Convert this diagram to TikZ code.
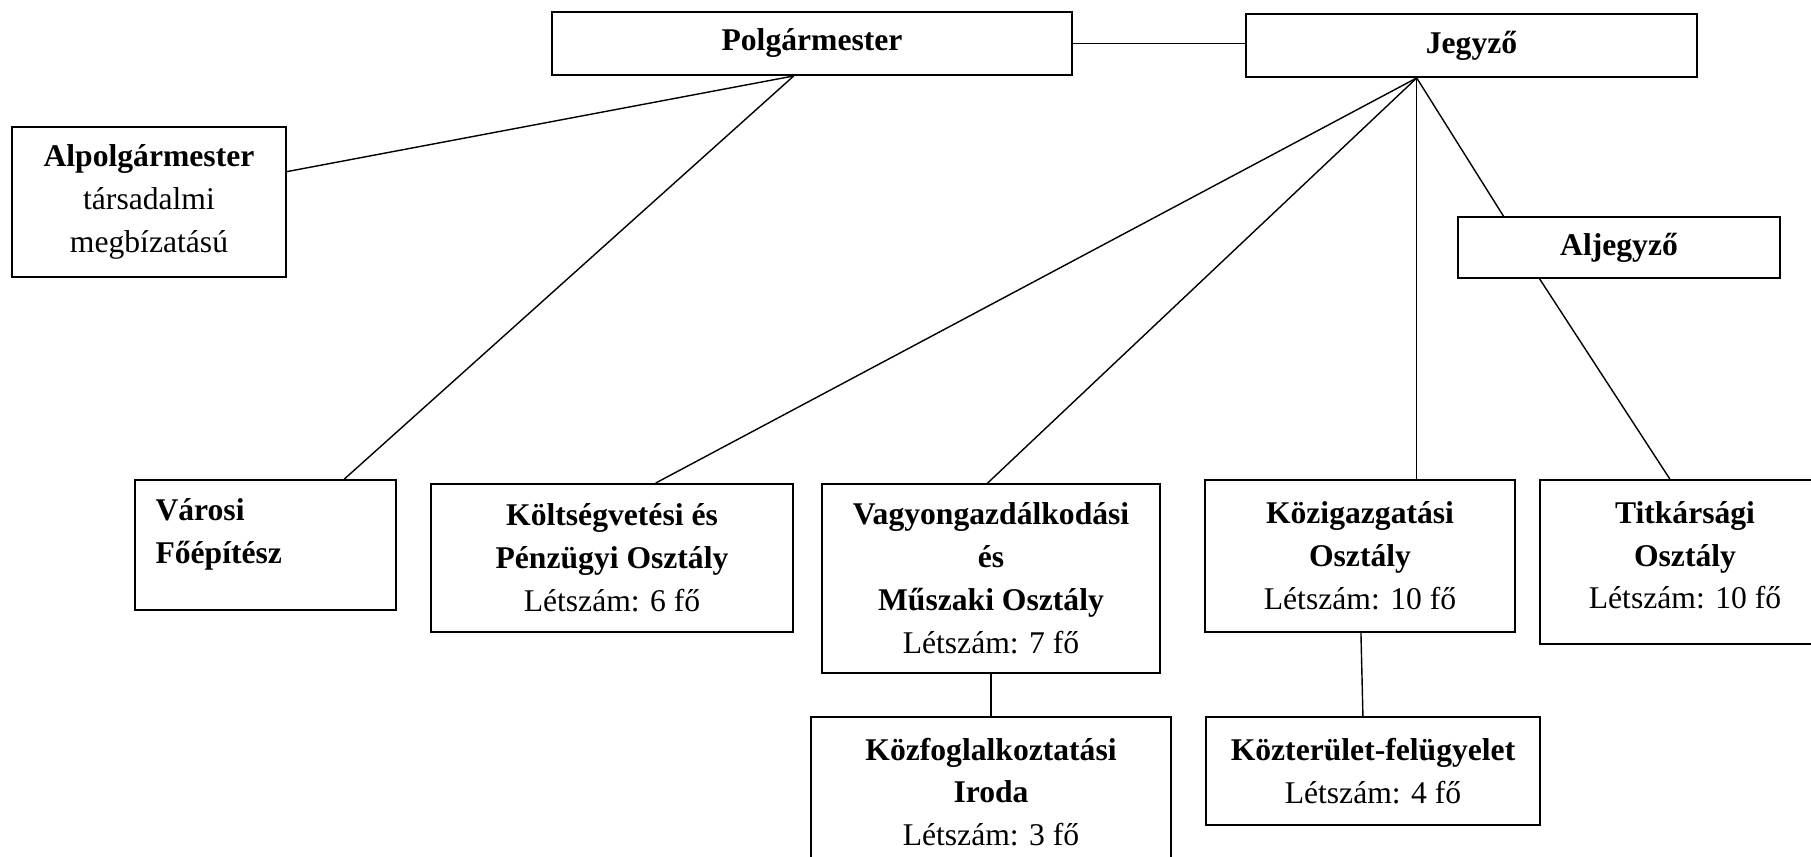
\documentclass[tikz,border=0pt]{standalone}
\usepackage{fontspec}
\setmainfont{Liberation Serif}
\usetikzlibrary{calc}

\begin{document}
\begin{tikzpicture}[x=0.02cm, y=-0.02cm,
box/.style = {draw, rectangle, line width=1.1pt, align=center, inner sep=0pt,
  font=\fontsize{18}{24.4}\selectfont},
link/.style = {line width=0.8pt}]

\useasboundingbox (0,0) rectangle (1811,857);

\node[box, minimum width=10.4cm, minimum height=1.26cm] (polgarmester) at (812,43.5) {\textbf{Polgármester}};
\node[box, minimum width=9.02cm, minimum height=1.26cm] (jegyzo) at (1471.5,45.5) {\textbf{Jegyző}};
\node[box, minimum width=5.48cm, minimum height=3cm] (alpolgarmester) at (149,202) {\textbf{Alpolgármester}\\társadalmi\\megbízatású};
\node[box, minimum width=6.44cm, minimum height=1.22cm] (aljegyzo) at (1619,247.5) {\textbf{Aljegyző}};

\node[box, minimum width=5.22cm, minimum height=2.6cm, align=left, text width=4.4cm] (fobepitesz) at (265.5,545) {\textbf{Városi}\\\textbf{Főépítész}\\[-0.3cm]\mbox{}};
\node[box, minimum width=7.24cm, minimum height=2.96cm] (penzugy) at (612,558) {\textbf{Költségvetési és}\\\textbf{Pénzügyi Osztály}\\Létszám: 6 fő};
\node[box, minimum width=6.76cm, minimum height=3.78cm] (muszaki) at (991,578.5) {\textbf{Vagyongazdálkodási}\\\textbf{és}\\\textbf{Műszaki Osztály}\\Létszám: 7 fő};
\node[box, minimum width=6.2cm, minimum height=3.04cm] (kozigazgatas) at (1360,556) {\textbf{Közigazgatási}\\\textbf{Osztály}\\Létszám: 10 fő};
\node[box, minimum width=5.8cm, minimum height=3.28cm] (titkarsag) at (1685,562) {\textbf{Titkársági}\\\textbf{Osztály}\\Létszám: 10 fő\\[-0.58cm]};

\node[box, minimum width=7.2cm, minimum height=3cm] (kozfoglalkoztatas) at (991,792) {\textbf{Közfoglalkoztatási}\\\textbf{Iroda}\\Létszám: 3 fő};
\node[box, minimum width=6.68cm, minimum height=2.16cm] (kozterulet) at (1373,771) {\textbf{Közterület-felügyelet}\\Létszám: 4 fő};

% branch points under the two heads
\coordinate (polg hub) at ($(polgarmester.south west)!0.465!(polgarmester.south east)$);
\coordinate (jegyzo hub) at ($(jegyzo.south west)!0.379!(jegyzo.south east)$);

\draw[link] (polgarmester.east) -- (polgarmester.east -| jegyzo.west);
\draw[link] (polg hub) -- ($(alpolgarmester.north east)!0.3!(alpolgarmester.south east)$);
\draw[link] (polg hub) -- ($(fobepitesz.north west)!0.8!(fobepitesz.north east)$);

\draw[link] (jegyzo hub) -- ($(penzugy.north west)!0.62!(penzugy.north east)$);
\draw[link] (jegyzo hub) -- ($(muszaki.north west)!0.49!(muszaki.north east)$);
\draw[link] (jegyzo hub) -- (jegyzo hub |- kozigazgatas.north);
\draw[link] (jegyzo hub) -- ($(aljegyzo.north west)!0.143!(aljegyzo.north east)$);

\draw[link] ($(aljegyzo.south west)!0.255!(aljegyzo.south east)$) -- ($(titkarsag.north west)!0.448!(titkarsag.north east)$);
\draw[link] (muszaki.south) -- (muszaki.south |- kozfoglalkoztatas.north);
\draw[link] ($(kozigazgatas.south west)!0.503!(kozigazgatas.south east)$) -- ($(kozterulet.north west)!0.47!(kozterulet.north east)$);

\end{tikzpicture}
\end{document}
